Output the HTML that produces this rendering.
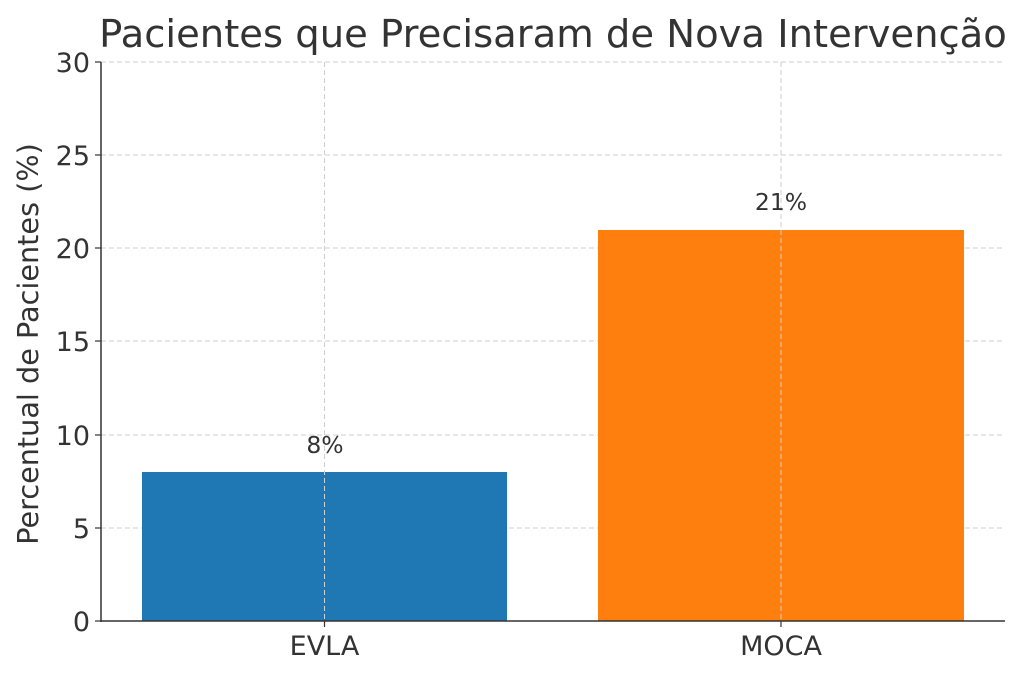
<!DOCTYPE html>
<html><head><meta charset="utf-8"><style>
body{margin:0;background:#fff;}
svg{display:block;font-family:"DejaVu Sans","Liberation Sans",sans-serif;}
</style></head><body>
<svg width="1024" height="676" viewBox="0 0 1024 676" xmlns="http://www.w3.org/2000/svg">
<rect width="1024" height="676" fill="#fff"/>
<g stroke="#cfcfcf" stroke-width="1" stroke-dasharray="5,3">
<line x1="101" y1="62" x2="1005" y2="62"/>
<line x1="101" y1="155" x2="1005" y2="155"/>
<line x1="101" y1="248" x2="1005" y2="248"/>
<line x1="101" y1="341" x2="1005" y2="341"/>
<line x1="101" y1="435" x2="1005" y2="435"/>
<line x1="101" y1="528" x2="1005" y2="528"/>
</g>
<rect x="142" y="472" width="365" height="149" fill="#1f77b4"/>
<rect x="598" y="230" width="366" height="391" fill="#ff7f0e"/>
<g stroke="#cfcfcf" stroke-width="1" stroke-dasharray="5,3">
<line x1="324.5" y1="62" x2="324.5" y2="621"/>
<line x1="781" y1="62" x2="781" y2="621"/>
</g>
<line x1="101" y1="62" x2="101" y2="622" stroke="#333" stroke-width="1.5"/>
<line x1="100" y1="621" x2="1005" y2="621" stroke="#333" stroke-width="1.5"/>
<g stroke="#333" stroke-width="1.2">
<line x1="95" y1="62" x2="101" y2="62"/><line x1="95" y1="155" x2="101" y2="155"/>
<line x1="95" y1="248" x2="101" y2="248"/><line x1="95" y1="341" x2="101" y2="341"/>
<line x1="95" y1="435" x2="101" y2="435"/><line x1="95" y1="528" x2="101" y2="528"/>
<line x1="95" y1="621" x2="101" y2="621"/>
<line x1="324.5" y1="621" x2="324.5" y2="627"/><line x1="781" y1="621" x2="781" y2="627"/>
</g>
<g fill="#333" font-size="27" text-anchor="end">
<text x="90" y="72">30</text><text x="90" y="165">25</text><text x="90" y="258">20</text>
<text x="90" y="351">15</text><text x="90" y="445">10</text><text x="90" y="538">5</text>
<text x="90" y="631">0</text>
</g>
<g fill="#333" font-size="27" text-anchor="middle">
<text x="324.5" y="655">EVLA</text><text x="781" y="655">MOCA</text>
</g>
<g fill="#333" font-size="23.5" text-anchor="middle">
<text x="325" y="453">8%</text><text x="781" y="210">21%</text>
</g>
<text x="38" y="344" fill="#333" font-size="28.7" text-anchor="middle" transform="rotate(-90 38 344)">Percentual de Pacientes (%)</text>
<text x="553" y="47" fill="#333" font-size="38.5" text-anchor="middle">Pacientes que Precisaram de Nova Intervenção</text>
</svg>
</body></html>
